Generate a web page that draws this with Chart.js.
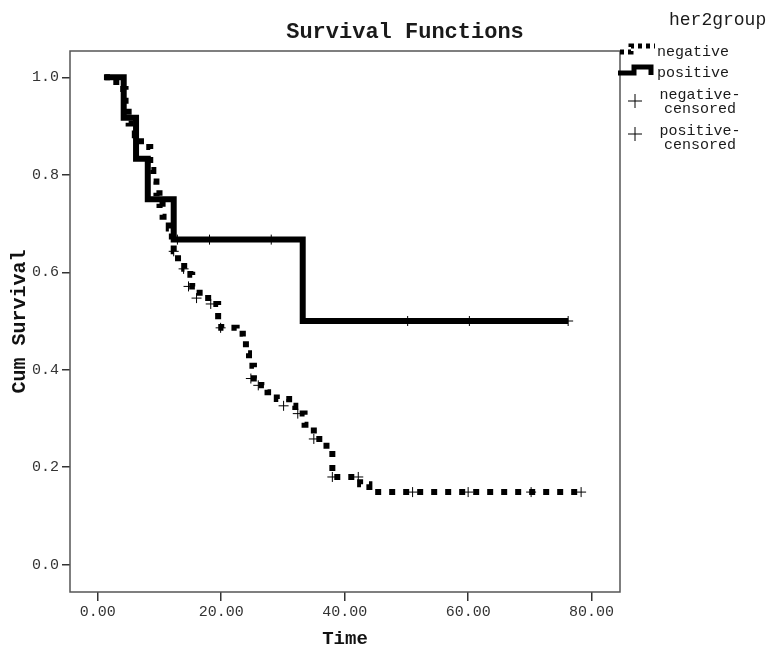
<!DOCTYPE html>
<html lang="en">
<head>
<meta charset="UTF-8">
<title>Survival Functions</title>
<script src="https://cdn.jsdelivr.net/npm/chart.js"></script>
<style>
  body { margin: 0; background: #ffffff; }
  .wrap { position: relative; width: 784px; height: 650px; }
</style>
</head>
<body>
<div class="wrap"><canvas id="kmChart"></canvas></div>
<script>
// her2group = negative : step points (time, survival after the step)
const negTime = [1.0, 3.0, 4.5, 5.0, 6.0, 7.0, 8.5, 9.0, 9.5, 10.0, 10.5, 11.5, 12.0, 12.3, 13.0, 14.0, 15.0, 15.3,
                 16.5, 18.5, 19.5, 20.0, 22.5, 23.5, 24.0, 24.5, 25.3, 26.5, 27.5, 29.0, 31.0, 32.0, 33.5, 35.0,
                 36.5, 38.0, 42.5, 44.0, 78.3];
const negSurv = [1.0, 0.976, 0.952, 0.905, 0.881, 0.857, 0.81, 0.786, 0.762, 0.738, 0.714, 0.69, 0.667, 0.643,
                 0.619, 0.607, 0.595, 0.571, 0.547, 0.535, 0.51, 0.486, 0.474, 0.46, 0.434, 0.408, 0.382, 0.368,
                 0.354, 0.34, 0.326, 0.31, 0.287, 0.258, 0.244, 0.18, 0.165, 0.149, 0.149];
const negCensTime = [12.3, 13.9, 14.7, 16.0, 18.3, 19.9, 24.8, 26.0, 30.1, 32.4, 35.0, 38.0, 42.2, 51.0, 60.0, 70.2, 78.3];
const negCensSurv = [0.643, 0.607, 0.571, 0.547, 0.535, 0.486, 0.382, 0.368, 0.326, 0.31, 0.258, 0.18, 0.18,
                     0.149, 0.149, 0.149, 0.149];

// her2group = positive
const posTime = [1.2, 4.2, 6.2, 8.1, 12.3, 33.2, 76.2];
const posSurv = [1.0, 0.917, 0.833, 0.75, 0.667, 0.5, 0.5];
const posCensTime = [12.9, 18.1, 28.1, 50.2, 60.2, 76.2];
const posCensSurv = [0.667, 0.667, 0.667, 0.5, 0.5, 0.5];

const xTicks = [0, 20, 40, 60, 80];
const yTicks = [0, 0.2, 0.4, 0.6, 0.8, 1.0];

const MONO = '"Liberation Mono", "DejaVu Sans Mono", monospace';

function pts(xs, ys) {
  return xs.map((x, i) => ({ x: x, y: ys[i] }));
}

// frame, title and legend drawn like the SPSS output
const spssDecor = {
  id: 'spssDecor',
  afterDraw(chart) {
    const ctx = chart.ctx;
    const a = chart.chartArea;
    ctx.save();
    ctx.strokeStyle = '#555';
    ctx.lineWidth = 1.5;
    ctx.strokeRect(a.left, a.top, a.right - a.left, a.bottom - a.top);

    ctx.fillStyle = '#1a1a1a';
    ctx.textBaseline = 'middle';
    ctx.font = 'bold 22px ' + MONO;
    ctx.textAlign = 'center';
    ctx.fillText('Survival Functions', 405, 32);

    ctx.font = '18px ' + MONO;
    ctx.textAlign = 'left';
    ctx.fillText('her2group', 669, 20);

    // negative icon (dotted step)
    ctx.strokeStyle = '#000';
    ctx.lineWidth = 5;
    ctx.setLineDash([4, 4]);
    ctx.beginPath();
    ctx.moveTo(620, 52); ctx.lineTo(631, 52); ctx.lineTo(631, 46); ctx.lineTo(655, 46);
    ctx.stroke();
    // positive icon (solid step)
    ctx.setLineDash([]);
    ctx.beginPath();
    ctx.moveTo(618, 73); ctx.lineTo(634, 73); ctx.lineTo(634, 67); ctx.lineTo(651, 67); ctx.lineTo(651, 75);
    ctx.stroke();
    // censored crosses
    ctx.lineWidth = 1;
    [101, 134].forEach(y => {
      ctx.beginPath();
      ctx.moveTo(628, y); ctx.lineTo(642, y);
      ctx.moveTo(635, y - 7); ctx.lineTo(635, y + 7);
      ctx.stroke();
    });

    ctx.font = '15px ' + MONO;
    ctx.fillText('negative', 657, 52);
    ctx.fillText('positive', 657, 73);
    ctx.textAlign = 'center';
    ctx.fillText('negative-', 700, 95);
    ctx.fillText('censored', 700, 109);
    ctx.fillText('positive-', 700, 131);
    ctx.fillText('censored', 700, 145);
    ctx.restore();
  }
};

const tickFont = { family: MONO, size: 15 };

new Chart(document.getElementById('kmChart'), {
  type: 'scatter',
  data: {
    datasets: [
      {
        label: 'negative-censored',
        data: pts(negCensTime, negCensSurv),
        pointStyle: 'cross', pointRadius: 5, borderWidth: 1, borderColor: '#000'
      },
      {
        label: 'positive-censored',
        data: pts(posCensTime, posCensSurv),
        pointStyle: 'cross', pointRadius: 5, borderWidth: 1, borderColor: '#000'
      },
      {
        label: 'positive',
        data: pts(posTime, posSurv),
        showLine: true, stepped: 'before', borderColor: '#000', borderWidth: 6,
        borderCapStyle: 'butt', borderJoinStyle: 'miter', pointRadius: 0
      },
      {
        label: 'negative',
        data: pts(negTime, negSurv),
        showLine: true, stepped: 'before', borderColor: '#000', borderWidth: 6,
        borderDash: [6, 8], borderCapStyle: 'butt', borderJoinStyle: 'miter', pointRadius: 0
      }
    ]
  },
  options: {
    responsive: true,
    maintainAspectRatio: false,
    animation: false,
    layout: { padding: { left: 0, right: 164, top: 51, bottom: 0 } },
    plugins: { legend: { display: false }, tooltip: { enabled: false } },
    scales: {
      x: {
        type: 'linear', min: -4.5, max: 84.6,
        afterBuildTicks: s => { s.ticks = xTicks.map(v => ({ value: v })); },
        afterFit: s => { s.height = 58; },
        ticks: { font: tickFont, color: '#333', padding: 2, maxRotation: 0, autoSkip: false,
                 callback: v => Number(v).toFixed(2) },
        grid: { drawOnChartArea: false, tickLength: 9, color: '#333', lineWidth: 1.5 },
        border: { display: false },
        title: { display: true, text: 'Time', color: '#111',
                 font: { family: MONO, size: 19, weight: 'bold', lineHeight: 1 }, padding: { top: 0, bottom: 1 } }
      },
      y: {
        type: 'linear', min: -0.056, max: 1.054,
        afterBuildTicks: s => { s.ticks = yTicks.map(v => ({ value: v })); },
        afterFit: s => { s.width = 70; },
        ticks: { font: tickFont, color: '#333', padding: 3, autoSkip: false,
                 callback: v => Number(v).toFixed(1) },
        grid: { drawOnChartArea: false, tickLength: 8, color: '#333', lineWidth: 1.5 },
        border: { display: false },
        title: { display: true, text: 'Cum Survival', color: '#111',
                 font: { family: MONO, size: 20, weight: 'bold', lineHeight: 1 }, padding: { top: 10 } }
      }
    }
  },
  plugins: [spssDecor]
});
</script>
</body>
</html>
